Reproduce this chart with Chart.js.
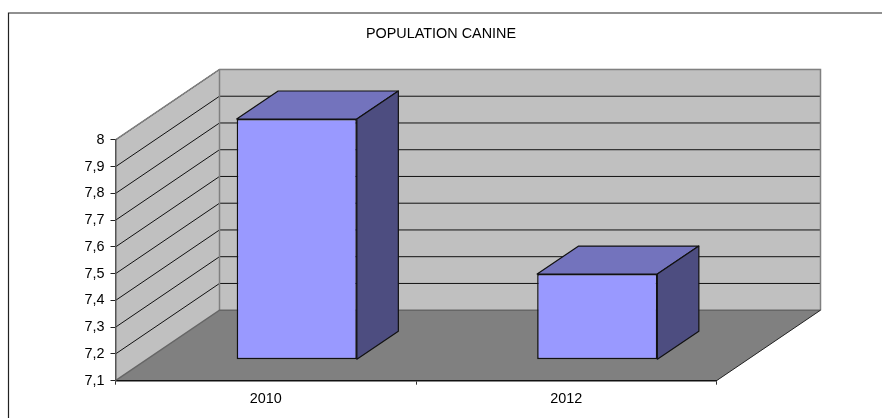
<!DOCTYPE html>
<html lang="fr">
<head>
<meta charset="utf-8">
<title>Population canine</title>
<script src="https://cdn.jsdelivr.net/npm/chart.js@4/dist/chart.umd.min.js"></script>
<style>
    html, body { margin: 0; padding: 0; background: #fff; }
    canvas { display: block; }
</style>
</head>
<body>
<canvas id="chart" width="882" height="418"></canvas>
<script>
const titleText = 'POPULATION CANINE';
const categories = ['2010', '2012'];
const populationValues = [8, 7.42];
const yTickLabels = ['7,1', '7,2', '7,3', '7,4', '7,5', '7,6', '7,7', '7,8', '7,9', '8'];
const yMin = 7.1;
const yMax = 8;

const fontFamily = '"Liberation Sans", Arial, sans-serif';
const fontSize = 14.4;

// fake 3D depth, in pixels
const wallDepth = { x: 104, y: 70.5 };
const barOffset = { x: 31, y: 21 };
const barDepth = { x: 41.5, y: 28 };

function polygon(ctx, points, fill, stroke, lineWidth) {
    ctx.beginPath();
    points.forEach((p, i) => (i ? ctx.lineTo(p[0], p[1]) : ctx.moveTo(p[0], p[1])));
    ctx.closePath();
    if (fill) {
        ctx.fillStyle = fill;
        ctx.fill();
    }
    if (stroke) {
        ctx.strokeStyle = stroke;
        ctx.lineWidth = lineWidth || 1;
        ctx.stroke();
    }
}

const box3d = {
    id: 'box3d',
    beforeDraw(chart) {
        const { ctx, chartArea: a, scales } = chart;
        const dx = wallDepth.x;
        const dy = wallDepth.y;
        ctx.save();

        // outer frame, only top and left are visible in the picture
        ctx.strokeStyle = '#222';
        ctx.lineWidth = 1.2;
        ctx.beginPath();
        ctx.moveTo(8.5, chart.height);
        ctx.lineTo(8.5, 13);
        ctx.lineTo(chart.width, 13);
        ctx.stroke();

        // walls and floor
        polygon(ctx, [[a.left, a.top], [a.left + dx, a.top - dy], [a.right + dx, a.top - dy], [a.right + dx, a.bottom - dy], [a.left + dx, a.bottom - dy], [a.left, a.bottom]], '#c0c0c0');
        polygon(ctx, [[a.left, a.bottom], [a.right, a.bottom], [a.right + dx, a.bottom - dy], [a.left + dx, a.bottom - dy]], '#808080');

        // grid lines run along the side wall and then the back wall
        ctx.strokeStyle = '#111';
        ctx.lineWidth = 1;
        scales.y.ticks.forEach((tick, i) => {
            if (i === 0) return;
            const y = scales.y.getPixelForValue(tick.value);
            ctx.beginPath();
            ctx.moveTo(a.left, y);
            ctx.lineTo(a.left + dx, y - dy);
            ctx.lineTo(a.right + dx, y - dy);
            ctx.stroke();
        });

        // wall edges
        ctx.strokeStyle = '#808080';
        ctx.lineWidth = 1.5;
        ctx.beginPath();
        ctx.moveTo(a.left, a.top);
        ctx.lineTo(a.left + dx, a.top - dy);
        ctx.lineTo(a.right + dx, a.top - dy);
        ctx.lineTo(a.right + dx, a.bottom - dy);
        ctx.moveTo(a.left + dx, a.top - dy);
        ctx.lineTo(a.left + dx, a.bottom - dy);
        ctx.stroke();

        ctx.strokeStyle = '#666';
        ctx.lineWidth = 1.5;
        ctx.beginPath();
        ctx.moveTo(a.left, a.bottom);
        ctx.lineTo(a.left + dx, a.bottom - dy);
        ctx.lineTo(a.right + dx, a.bottom - dy);
        ctx.stroke();

        ctx.strokeStyle = '#222';
        ctx.lineWidth = 1;
        ctx.beginPath();
        ctx.moveTo(a.right, a.bottom);
        ctx.lineTo(a.right + dx, a.bottom - dy);
        ctx.stroke();

        ctx.restore();
    },
    beforeDatasetDraw(chart, args) {
        const ctx = chart.ctx;
        ctx.save();
        // bars stand in the middle of the floor, not on the front plane
        ctx.translate(barOffset.x, -barOffset.y);
        chart.getDatasetMeta(args.index).data.forEach(bar => {
            const left = bar.x - bar.width / 2;
            const right = bar.x + bar.width / 2;
            const dx = barDepth.x;
            const dy = barDepth.y;
            ctx.lineJoin = 'round';
            polygon(ctx, [[left, bar.y], [left + dx, bar.y - dy], [right + dx, bar.y - dy], [right, bar.y]], '#7373bd', '#111', 1.2);
            polygon(ctx, [[right, bar.y], [right + dx, bar.y - dy], [right + dx, bar.base - dy], [right, bar.base]], '#4d4d80', '#111', 1.2);
        });
    },
    afterDatasetDraw(chart) {
        chart.ctx.restore();
    }
};

new Chart(document.getElementById('chart').getContext('2d'), {
    type: 'bar',
    data: {
        labels: categories,
        datasets: [{
            data: populationValues,
            base: yMin,
            backgroundColor: '#9999ff',
            borderColor: '#111',
            borderWidth: 1.5,
            borderSkipped: false,
            barPercentage: 1,
            categoryPercentage: 0.4,
            clip: false
        }]
    },
    options: {
        responsive: false,
        animation: false,
        devicePixelRatio: 1,
        layout: { padding: { left: 0, right: 0, top: 0, bottom: 7.3 } },
        plugins: {
            legend: { display: false },
            tooltip: { enabled: false },
            title: {
                display: true,
                text: titleText,
                color: '#000',
                font: { family: fontFamily, size: fontSize, weight: 'normal', lineHeight: 1.2 },
                padding: { top: 25.5, bottom: 97.2 }
            }
        },
        scales: {
            x: {
                afterFit: scale => { scale.height = 30; },
                border: { color: '#111', width: 1.5 },
                grid: { drawOnChartArea: false, drawTicks: true, tickLength: 4, color: '#333' },
                ticks: { color: '#000', padding: 5.5, maxRotation: 0, font: { family: fontFamily, size: fontSize } }
            },
            y: {
                min: yMin,
                max: yMax,
                afterFit: scale => { scale.width = 115.5; },
                border: { color: '#555', width: 1.5 },
                grid: { drawOnChartArea: false, drawTicks: true, tickLength: 5, color: '#222' },
                ticks: {
                    stepSize: 0.1,
                    autoSkip: false,
                    color: '#000',
                    padding: 6,
                    font: { family: fontFamily, size: fontSize },
                    callback: (value, index) => yTickLabels[index]
                }
            },
            // empty axis, it only keeps the right margin so the title stays centred on the page
            margin: {
                axis: 'y',
                position: 'right',
                afterFit: scale => { scale.width = 165.5; },
                border: { display: false },
                grid: { display: false },
                ticks: { display: false }
            }
        }
    },
    plugins: [box3d]
});
</script>
</body>
</html>
